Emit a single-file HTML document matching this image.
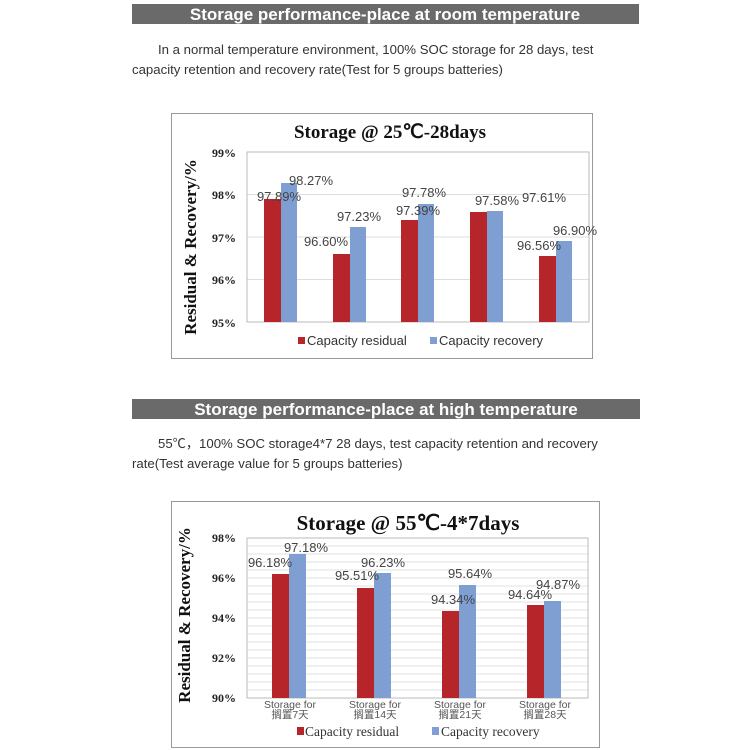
<!DOCTYPE html>
<html><head><meta charset="utf-8"><style>
html,body{margin:0;padding:0;background:#fff;}
svg{display:block;}
</style></head><body>
<svg width="750" height="750" viewBox="0 0 750 750" xmlns="http://www.w3.org/2000/svg">
<rect x="132" y="4" width="507" height="20" fill="#6a6a6a"/>
<text x="385" y="20" text-anchor="middle" font-family="Liberation Sans, sans-serif" font-weight="bold" font-size="17" fill="#fff">Storage performance-place at room  temperature</text>
<g font-family="Liberation Sans, 'Noto Sans CJK SC', sans-serif" font-size="13.2" fill="#333">
<text x="158" y="54">In a normal temperature environment, 100% SOC storage for 28 days, test</text>
<text x="132" y="74">capacity retention and recovery rate(Test for 5 groups batteries)</text>
</g>
<rect x="171.5" y="113.5" width="421" height="245" fill="#fff" stroke="#999" stroke-width="1"/>
<text x="390" y="138" text-anchor="middle" font-family="Liberation Serif, serif" font-weight="bold" font-size="19" fill="#111">Storage @ 25℃-28days</text>
<text transform="translate(196,247) rotate(-90)" text-anchor="middle" font-family="Liberation Serif, serif" font-weight="bold" font-size="17" fill="#111">Residual &amp; Recovery/%</text>
<g stroke="#ddd" stroke-width="1">
<line x1="247" y1="194.5" x2="589" y2="194.5"/><line x1="247" y1="237" x2="589" y2="237"/><line x1="247" y1="279.5" x2="589" y2="279.5"/>
</g>
<rect x="247" y="152" width="342" height="170" fill="none" stroke="#bbb"/>
<g font-family="Liberation Serif, serif" font-weight="bold" font-size="12" fill="#222" text-anchor="end">
<text x="236" y="157">99%</text><text x="236" y="199">98%</text><text x="236" y="242">97%</text><text x="236" y="284">96%</text><text x="236" y="327">95%</text>
</g>
<g fill="#b5252a">
<rect x="264" y="199" width="17" height="123"/><rect x="333" y="254" width="17" height="68"/><rect x="401" y="220" width="17" height="102"/><rect x="470" y="212" width="17" height="110"/><rect x="539" y="256" width="17" height="66"/>
</g>
<g fill="#7f9fd2">
<rect x="281" y="183" width="16" height="139"/><rect x="350" y="227" width="16" height="95"/><rect x="418" y="204" width="16" height="118"/><rect x="487" y="211" width="16" height="111"/><rect x="556" y="241" width="16" height="81"/>
</g>
<g font-family="Liberation Sans, sans-serif" font-size="13" fill="#444" text-anchor="middle">
<text x="311" y="185">98.27%</text><text x="279" y="201">97.89%</text>
<text x="359" y="221">97.23%</text><text x="326" y="246">96.60%</text>
<text x="424" y="197">97.78%</text><text x="418" y="215">97.39%</text>
<text x="497" y="205">97.58%</text><text x="544" y="202">97.61%</text>
<text x="575" y="235">96.90%</text><text x="539" y="250">96.56%</text>
</g>
<rect x="298" y="337" width="7" height="7" fill="#b5252a"/>
<rect x="430" y="337" width="7" height="7" fill="#7f9fd2"/>
<g font-family="Liberation Sans, sans-serif" font-size="13" fill="#333">
<text x="307" y="345">Capacity residual</text><text x="439" y="345">Capacity recovery</text>
</g>

<rect x="132" y="399" width="508" height="20" fill="#6a6a6a"/>
<text x="386" y="415" text-anchor="middle" font-family="Liberation Sans, sans-serif" font-weight="bold" font-size="17" fill="#fff">Storage performance-place at high  temperature</text>
<g font-family="Liberation Sans, 'Noto Sans CJK SC', sans-serif" font-size="13.2" fill="#333">
<text x="158" y="448">55℃，100% SOC storage4*7 28 days, test capacity retention and recovery</text>
<text x="132" y="468">rate(Test average value for 5 groups batteries)</text>
</g>
<rect x="171.5" y="501.5" width="428" height="246" fill="#fff" stroke="#999"/>
<text x="408" y="530" text-anchor="middle" font-family="Liberation Serif, serif" font-weight="bold" font-size="21" fill="#111">Storage @ 55℃-4*7days</text>
<text transform="translate(190,615) rotate(-90)" text-anchor="middle" font-family="Liberation Serif, serif" font-weight="bold" font-size="17" fill="#111">Residual &amp; Recovery/%</text>
<g stroke="#e2e2e2" stroke-width="1">
<line x1="247" y1="546" x2="588" y2="546"/><line x1="247" y1="554" x2="588" y2="554"/><line x1="247" y1="562" x2="588" y2="562"/><line x1="247" y1="570" x2="588" y2="570"/><line x1="247" y1="578" x2="588" y2="578"/><line x1="247" y1="586" x2="588" y2="586"/><line x1="247" y1="594" x2="588" y2="594"/><line x1="247" y1="602" x2="588" y2="602"/><line x1="247" y1="610" x2="588" y2="610"/><line x1="247" y1="618" x2="588" y2="618"/><line x1="247" y1="626" x2="588" y2="626"/><line x1="247" y1="634" x2="588" y2="634"/><line x1="247" y1="642" x2="588" y2="642"/><line x1="247" y1="650" x2="588" y2="650"/><line x1="247" y1="658" x2="588" y2="658"/><line x1="247" y1="666" x2="588" y2="666"/><line x1="247" y1="674" x2="588" y2="674"/><line x1="247" y1="682" x2="588" y2="682"/><line x1="247" y1="690" x2="588" y2="690"/>
</g>
<rect x="247" y="538" width="341" height="160" fill="none" stroke="#bbb"/>
<g font-family="Liberation Serif, serif" font-weight="bold" font-size="12" fill="#222" text-anchor="end">
<text x="236" y="542">98%</text><text x="236" y="582">96%</text><text x="236" y="622">94%</text><text x="236" y="662">92%</text><text x="236" y="702">90%</text>
</g>
<g fill="#b5252a">
<rect x="272" y="574" width="17" height="124"/><rect x="357" y="588" width="17" height="110"/><rect x="442" y="611" width="17" height="87"/><rect x="527" y="605" width="17" height="93"/>
</g>
<g fill="#7f9fd2">
<rect x="289" y="554" width="17" height="144"/><rect x="374" y="573" width="17" height="125"/><rect x="459" y="585" width="17" height="113"/><rect x="544" y="601" width="17" height="97"/>
</g>
<g font-family="Liberation Sans, sans-serif" font-size="13" fill="#444" text-anchor="middle">
<text x="306" y="552">97.18%</text><text x="270" y="567">96.18%</text>
<text x="383" y="567">96.23%</text><text x="357" y="580">95.51%</text>
<text x="470" y="578">95.64%</text><text x="453" y="604">94.34%</text>
<text x="558" y="589">94.87%</text><text x="530" y="599">94.64%</text>
</g>
<g font-family="Liberation Sans, 'Noto Sans CJK SC', sans-serif" font-size="10.5" fill="#555" text-anchor="middle">
<text x="290" y="708">Storage for</text><text x="290" y="718">搁置7天</text>
<text x="375" y="708">Storage for</text><text x="375" y="718">搁置14天</text>
<text x="460" y="708">Storage for</text><text x="460" y="718">搁置21天</text>
<text x="545" y="708">Storage for</text><text x="545" y="718">搁置28天</text>
</g>
<rect x="297" y="727" width="7" height="8" fill="#b5252a"/>
<rect x="432" y="727" width="7" height="8" fill="#7f9fd2"/>
<g font-family="Liberation Serif, serif" font-size="13.5" fill="#333">
<text x="305" y="736">Capacity residual</text><text x="441" y="736">Capacity recovery</text>
</g>
</svg>
</body></html>
